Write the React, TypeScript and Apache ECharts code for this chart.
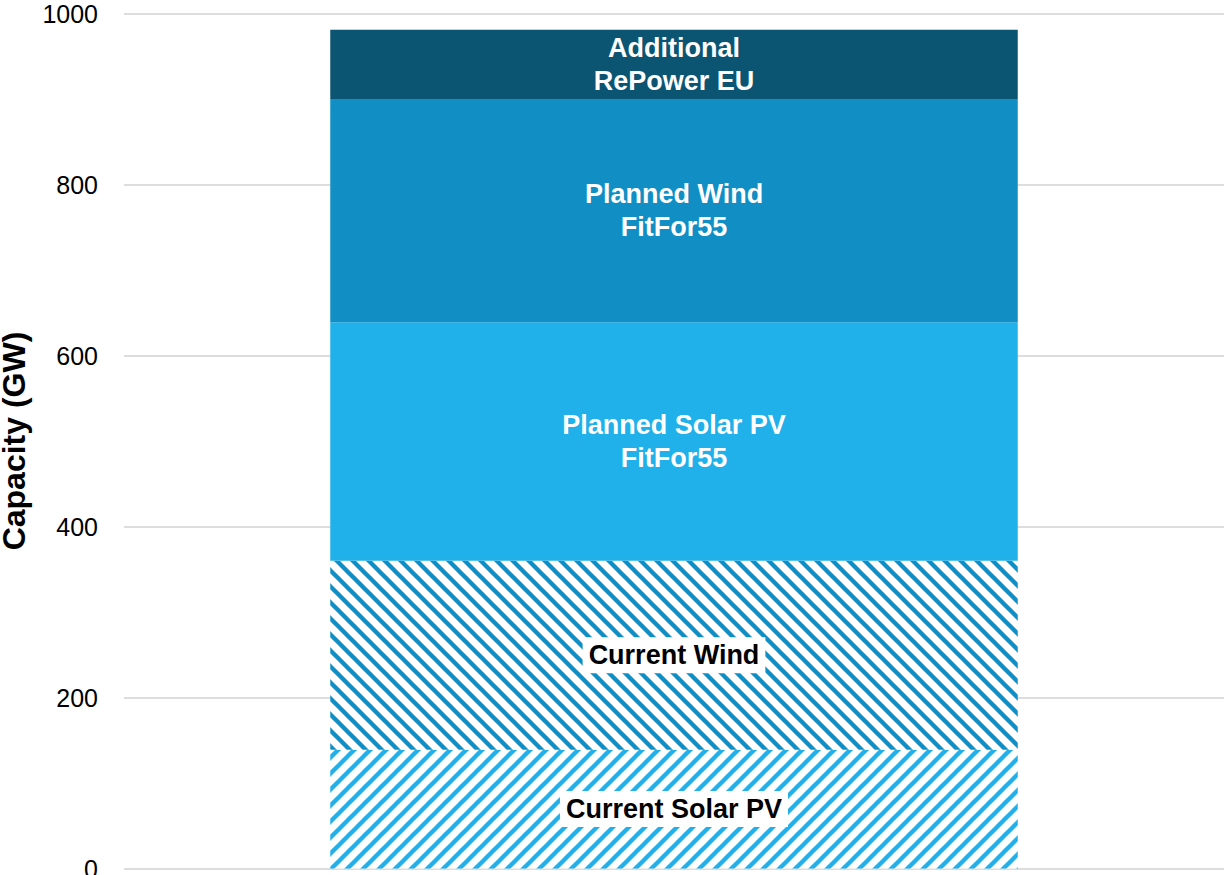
import React, { useEffect, useRef } from "react";
import * as echarts from "echarts";

const categories = [""];
const seriesNames = [
  "Current Solar PV",
  "Current Wind",
  "Planned Solar PV\nFitFor55",
  "Planned Wind\nFitFor55",
  "Additional\nRePower EU",
];
const currentSolar = [139];
const currentWind = [221];
const plannedSolar = [279];
const plannedWind = [261];
const additional = [81];
const yTicks = { min: 0, max: 1000, interval: 200 };

const FONT = 'Arial, "Liberation Sans", Helvetica, sans-serif';

function stripeTile(color: string, dir: "back" | "fwd"): string {
  const c = document.createElement("canvas");
  c.width = 16;
  c.height = 16;
  const ctx = c.getContext("2d")!;
  ctx.fillStyle = "#ffffff";
  ctx.fillRect(0, 0, 16, 16);
  ctx.strokeStyle = color;
  ctx.lineWidth = 4.4;
  for (const off of [-16, 0, 16]) {
    ctx.beginPath();
    if (dir === "back") {
      ctx.moveTo(-4 + off, -4);
      ctx.lineTo(20 + off, 20);
    } else {
      ctx.moveTo(-4 + off, 20);
      ctx.lineTo(20 + off, -4);
    }
    ctx.stroke();
  }
  return c.toDataURL();
}

export default function App() {
  const ref = useRef<HTMLDivElement>(null);
  useEffect(() => {
    if (!ref.current) return;
    const chart = echarts.init(ref.current, null, { renderer: "svg" });
    const windColor = "#118fc4";
    const solarColor = "#20b0ea";
    const addColor = "#0b5472";
    const windPattern = {
      image: stripeTile(windColor, "back"),
      repeat: "repeat",
      imageWidth: 16,
      imageHeight: 16,
    };
    const solarPattern = {
      image: stripeTile(solarColor, "fwd"),
      repeat: "repeat",
      imageWidth: 16,
      imageHeight: 16,
    };
    const whiteLabel = {
      show: true,
      position: "inside",
      color: "#ffffff",
      fontWeight: "bold",
      fontSize: 27,
      lineHeight: 33,
      fontFamily: FONT,
      formatter: "{a}",
    };
    const boxLabel = {
      show: true,
      position: "inside",
      color: "#000000",
      fontWeight: "bold",
      fontSize: 27,
      lineHeight: 30,
      fontFamily: FONT,
      backgroundColor: "#ffffff",
      padding: [3, 6, 3, 6],
      formatter: "{a}",
    };
    const datas = [currentSolar, currentWind, plannedSolar, plannedWind, additional];
    const colors: any[] = [solarPattern, windPattern, solarColor, windColor, addColor];
    const labels = [boxLabel, boxLabel, whiteLabel, whiteLabel, whiteLabel];
    chart.setOption({
      animation: false,
      grid: {
        left: 124,
        right: 2,
        top: 13.5,
        bottom: 6.5,
        containLabel: false,
        outerBoundsMode: "none",
      },
      xAxis: {
        type: "category",
        data: categories,
        axisLine: { show: false },
        axisTick: { show: false },
        axisLabel: { show: false },
      },
      yAxis: {
        type: "value",
        min: yTicks.min,
        max: yTicks.max,
        interval: yTicks.interval,
        name: "Capacity (GW)",
        nameLocation: "middle",
        nameRotate: 90,
        nameGap: 94,
        nameTextStyle: {
          fontFamily: FONT,
          fontWeight: "bold",
          fontSize: 32,
          color: "#000",
        },
        axisLine: { show: false },
        axisTick: { show: false },
        axisLabel: {
          fontFamily: FONT,
          fontSize: 25,
          color: "#000",
          margin: 26,
          formatter: (v: number) => String(v),
        },
        splitLine: { lineStyle: { color: "#dddddd", width: 2 } },
      },
      series: seriesNames.map((name, i) => ({
        name,
        type: "bar",
        stack: "total",
        barWidth: "62.5%",
        data: datas[i],
        itemStyle: { color: colors[i] },
        label: labels[i],
      })),
    });
    return () => chart.dispose();
  }, []);
  return (
    <div
      ref={ref}
      style={{ position: "fixed", left: 0, top: 0, width: 1226, height: 875, background: "#fff" }}
    />
  );
}
